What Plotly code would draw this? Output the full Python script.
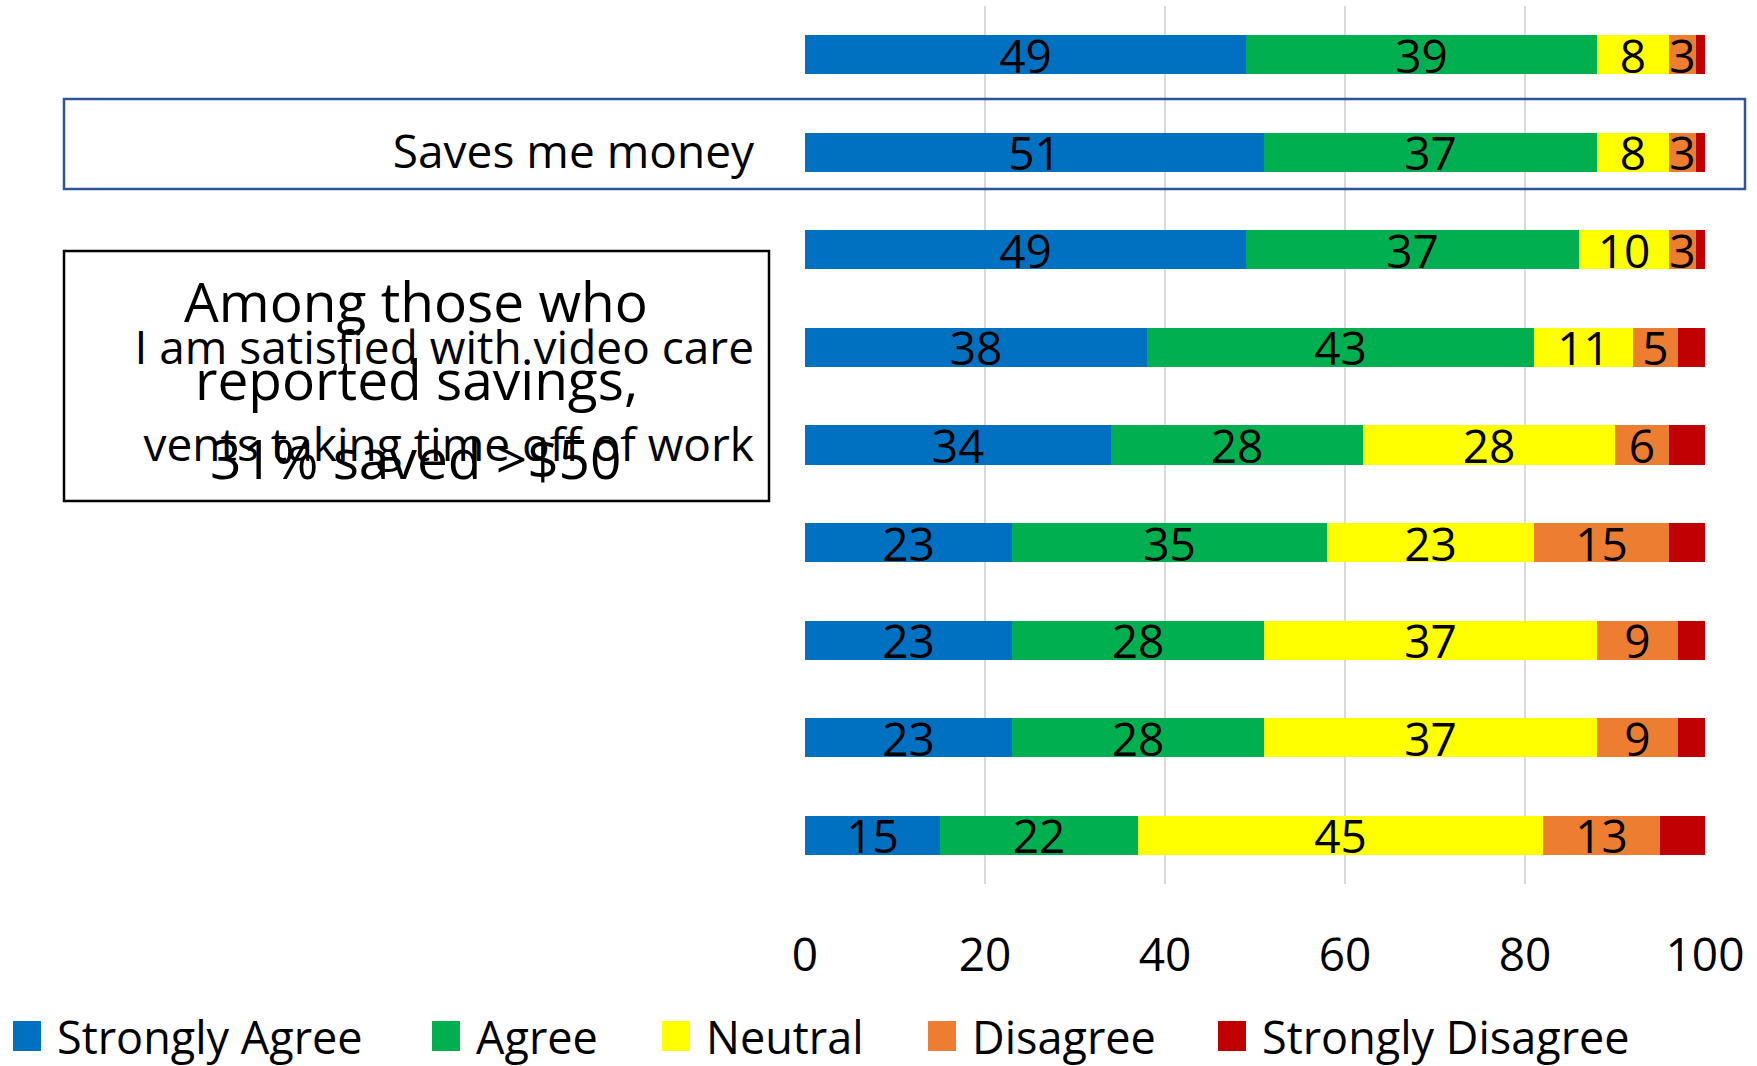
import plotly.graph_objects as go

# Survey statements (only some have visible labels), top to bottom
categories = ["", "Saves me money", "", "I am satisfied with video care",
              "vents taking time off of work", "", "", "", ""]

# Percent of respondents per response level
strongly_agree = [49, 51, 49, 38, 34, 23, 23, 23, 15]
agree = [39, 37, 37, 43, 28, 35, 28, 28, 22]
neutral = [8, 8, 10, 11, 28, 23, 37, 37, 45]
disagree = [3, 3, 3, 5, 6, 15, 9, 9, 13]
strongly_disagree = [1, 1, 1, 3, 4, 4, 3, 3, 5]

series_names = ["Strongly Agree", "Agree", "Neutral", "Disagree", "Strongly Disagree"]
series_values = [strongly_agree, agree, neutral, disagree, strongly_disagree]
series_colors = ["#0070C0", "#00B050", "#FFFF00", "#ED7D31", "#C00000"]
show_labels = [True, True, True, True, False]

x_ticks = [0, 20, 40, 60, 80, 100]

callout_lines = ["Among those who", "reported savings,", "31% saved >$50"]

FONT = "Open Sans, Lato, sans-serif"
W, H = 1757, 1066
L, R, T, B = 805, 52, 6, 182
PW, PH = W - L - R, H - T - B


def px_x(px):
    return (px - L) / PW


def px_y(py):
    return (H - B - py) / PH


rows = list(range(len(categories)))

fig = go.Figure()
for name, vals, col, lab in zip(series_names, series_values, series_colors, show_labels):
    fig.add_trace(go.Bar(
        y=rows, x=vals, orientation="h", name=name,
        marker=dict(color=col, line=dict(width=0)),
        text=[str(v) for v in vals] if lab else None,
        textposition="inside" if lab else "none",
        insidetextanchor="middle",
        textangle=0,
        textfont=dict(family=FONT, size=46, color="black"),
        showlegend=False,
        hoverinfo="skip",
    ))

shapes = []
annotations = []

# Highlight box around the "Saves me money" row
shapes.append(dict(type="rect", xref="paper", yref="paper",
                   x0=px_x(64), x1=px_x(1745), y0=px_y(189), y1=px_y(99),
                   line=dict(color="#2F5597", width=2.5), fillcolor="rgba(0,0,0,0)"))

# Callout box
shapes.append(dict(type="rect", xref="paper", yref="paper",
                   x0=px_x(64), x1=px_x(769), y0=px_y(501), y1=px_y(251),
                   line=dict(color="black", width=2.5), fillcolor="rgba(0,0,0,0)"))
for line, cy in zip(callout_lines, [300, 379, 457]):
    annotations.append(dict(text=line, xref="paper", yref="paper",
                            x=px_x(416), y=px_y(cy), xanchor="center", yanchor="middle",
                            showarrow=False, font=dict(family=FONT, size=55, color="black")))

# Legend drawn along the bottom
legend_x = [13, 432, 662, 928, 1218]
legend_cy = 1036
for name, col, lx in zip(series_names, series_colors, legend_x):
    shapes.append(dict(type="rect", xref="paper", yref="paper",
                       x0=px_x(lx), x1=px_x(lx + 28),
                       y0=px_y(legend_cy + 15), y1=px_y(legend_cy - 15),
                       line=dict(width=0), fillcolor=col))
    annotations.append(dict(text=name, xref="paper", yref="paper",
                            x=px_x(lx + 42), y=px_y(legend_cy), xanchor="left", yanchor="middle",
                            showarrow=False, font=dict(family=FONT, size=45, color="black")))

fig.update_layout(
    width=W, height=H,
    margin=dict(l=L, r=R, t=T, b=B, pad=0),
    barmode="stack", bargap=0.6,
    plot_bgcolor="white", paper_bgcolor="white",
    uniformtext=dict(minsize=46, mode="show"),
    shapes=shapes, annotations=annotations,
    showlegend=False,
    xaxis=dict(range=[0, 100], tickvals=x_ticks, ticktext=[str(t) for t in x_ticks],
               showgrid=True, gridcolor="#D9D9D9", gridwidth=1.5, zeroline=False,
               showline=False, ticks="", ticklabelstandoff=40,
               tickfont=dict(family=FONT, size=46, color="black"), fixedrange=True),
    yaxis=dict(tickvals=rows, ticktext=categories, autorange="reversed",
               range=[len(categories) - 0.5, -0.5],
               showgrid=False, zeroline=False, showline=False, ticks="",
               ticklabelstandoff=50,
               tickfont=dict(family=FONT, size=46, color="black"), fixedrange=True),
)

fig.write_html("out.html")
